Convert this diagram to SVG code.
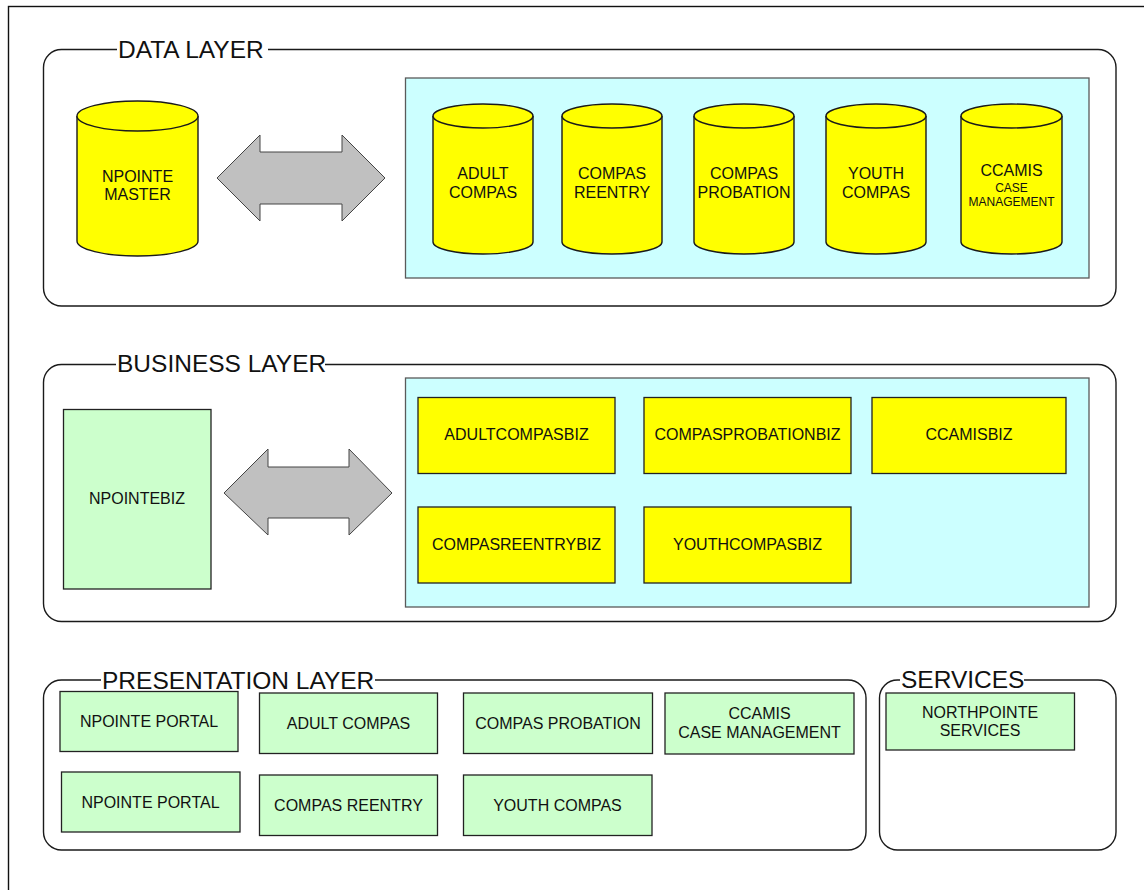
<svg xmlns="http://www.w3.org/2000/svg" width="1144" height="890" viewBox="0 0 1144 890">
<style>
.layer{fill:#ffffff;stroke:#1a1a1a;stroke-width:1.4}
.title{font-family:"Liberation Sans",Arial,sans-serif;font-size:24.5px;fill:#111}
.gap{fill:#ffffff}
.panel{fill:#ccffff;stroke:#5a5a5a;stroke-width:1.3}
.db{fill:#ffff00;stroke:#1a1a1a;stroke-width:1.4}
.biz{fill:#ffff00;stroke:#222;stroke-width:1.3}
.green{fill:#ccffcc;stroke:#222;stroke-width:1.3}
.arrow{fill:#c0c0c0;stroke:#444;stroke-width:1}
.lbl{font-family:"Liberation Sans",Arial,sans-serif;font-size:16px;fill:#111;text-anchor:middle}
.sm{font-size:12px}
</style>
<rect x="0" y="0" width="1144" height="890" fill="#ffffff"/>
<rect x="8.5" y="6.5" width="1200" height="1000" fill="none" stroke="#111" stroke-width="1.4"/>

<g id="data-layer">
<rect class="layer" x="43.5" y="49.5" width="1072.5" height="256.5" rx="18"/>
<rect class="gap" x="117" y="40" width="151" height="20"/>
<text class="title" x="118" y="58">DATA LAYER</text>
<rect class="panel" x="405.5" y="78" width="683.5" height="200"/>
</g>

<g id="npointe-master">
<path class="db" d="M77,116 L77,241 A60.5,15 0 0 0 198,241 L198,116"/>
<ellipse class="db" cx="137.5" cy="116" rx="60.5" ry="15"/>
<text class="lbl" x="137.5" y="181.5">NPOINTE</text>
<text class="lbl" x="137.5" y="200">MASTER</text>
</g>

<g id="db-adult-compas">
<path class="db" d="M433,116 L433,242 A50,12 0 0 0 533,242 L533,116"/>
<ellipse class="db" cx="483" cy="116" rx="50" ry="12"/>
<text class="lbl" x="483" y="179">ADULT</text>
<text class="lbl" x="483" y="197.5">COMPAS</text>
</g>
<g id="db-compas-reentry">
<path class="db" d="M562,116 L562,242 A50,12 0 0 0 662,242 L662,116"/>
<ellipse class="db" cx="612" cy="116" rx="50" ry="12"/>
<text class="lbl" x="612" y="179">COMPAS</text>
<text class="lbl" x="612" y="197.5">REENTRY</text>
</g>
<g id="db-compas-probation">
<path class="db" d="M694,116 L694,242 A50,12 0 0 0 794,242 L794,116"/>
<ellipse class="db" cx="744" cy="116" rx="50" ry="12"/>
<text class="lbl" x="744" y="179">COMPAS</text>
<text class="lbl" x="744" y="197.5">PROBATION</text>
</g>
<g id="db-youth-compas">
<path class="db" d="M826,116 L826,242 A50,12 0 0 0 926,242 L926,116"/>
<ellipse class="db" cx="876" cy="116" rx="50" ry="12"/>
<text class="lbl" x="876" y="179">YOUTH</text>
<text class="lbl" x="876" y="197.5">COMPAS</text>
</g>
<g id="db-ccamis">
<path class="db" d="M961,116 L961,242 A50.5,12 0 0 0 1062,242 L1062,116"/>
<ellipse class="db" cx="1011.5" cy="116" rx="50.5" ry="12"/>
<text class="lbl" x="1011.5" y="175.5">CCAMIS</text>
<text class="lbl sm" x="1011.5" y="191.5">CASE</text>
<text class="lbl sm" x="1011.5" y="205.5">MANAGEMENT</text>
</g>

<g id="business-layer">
<rect class="layer" x="43.5" y="364.5" width="1072.5" height="257" rx="18"/>
<rect class="gap" x="116" y="353" width="209" height="20"/>
<text class="title" x="117" y="371.5">BUSINESS LAYER</text>
<rect class="panel" x="405.5" y="378" width="683.5" height="229"/>
</g>

<g id="npointebiz">
<rect class="green" x="63.5" y="409.5" width="147.5" height="179.5"/>
<text class="lbl" x="137" y="504">NPOINTEBIZ</text>
</g>
<g id="adultcompasbiz">
<rect class="biz" x="418" y="397.5" width="197" height="76"/>
<text class="lbl" x="516.5" y="440">ADULTCOMPASBIZ</text>
</g>
<g id="compasprobationbiz">
<rect class="biz" x="644" y="397.5" width="207" height="76"/>
<text class="lbl" x="747.5" y="440">COMPASPROBATIONBIZ</text>
</g>
<g id="ccamisbiz">
<rect class="biz" x="872" y="397.5" width="194" height="76"/>
<text class="lbl" x="969" y="440">CCAMISBIZ</text>
</g>
<g id="compasreentrybiz">
<rect class="biz" x="418" y="507" width="197" height="76"/>
<text class="lbl" x="516.5" y="550">COMPASREENTRYBIZ</text>
</g>
<g id="youthcompasbiz">
<rect class="biz" x="644" y="507" width="207" height="76"/>
<text class="lbl" x="747.5" y="550">YOUTHCOMPASBIZ</text>
</g>

<g id="presentation-layer">
<rect class="layer" x="43.5" y="680" width="822.5" height="170" rx="18"/>
<rect class="gap" x="101" y="669" width="274" height="20"/>
<text class="title" x="102" y="688.5">PRESENTATION LAYER</text>
</g>
<g id="npointe-portal-1">
<rect class="green" x="60" y="691.5" width="178" height="60"/>
<text class="lbl" x="149" y="727">NPOINTE PORTAL</text>
</g>
<g id="adult-compas">
<rect class="green" x="259.5" y="693" width="178" height="60.5"/>
<text class="lbl" x="348.5" y="729">ADULT COMPAS</text>
</g>
<g id="compas-probation">
<rect class="green" x="463.5" y="693" width="189" height="60.5"/>
<text class="lbl" x="558" y="729">COMPAS PROBATION</text>
</g>
<g id="ccamis-case-management">
<rect class="green" x="665" y="693" width="189" height="61"/>
<text class="lbl" x="759.5" y="719">CCAMIS</text>
<text class="lbl" x="759.5" y="737.5">CASE MANAGEMENT</text>
</g>
<g id="npointe-portal-2">
<rect class="green" x="61.5" y="772" width="178.5" height="60"/>
<text class="lbl" x="150.5" y="807.5">NPOINTE PORTAL</text>
</g>
<g id="compas-reentry">
<rect class="green" x="259.5" y="775" width="178" height="60.5"/>
<text class="lbl" x="348.5" y="811">COMPAS REENTRY</text>
</g>
<g id="youth-compas">
<rect class="green" x="463.5" y="775" width="188.5" height="60.5"/>
<text class="lbl" x="557.5" y="811">YOUTH COMPAS</text>
</g>

<g id="services-layer">
<rect class="layer" x="879.5" y="680" width="236.5" height="170" rx="18"/>
<rect class="gap" x="900" y="669" width="124" height="20"/>
<text class="title" x="901" y="687.5">SERVICES</text>
</g>
<g id="northpointe-services">
<rect class="green" x="886" y="693" width="188.5" height="57"/>
<text class="lbl" x="980" y="717.5">NORTHPOINTE</text>
<text class="lbl" x="980" y="736">SERVICES</text>
</g>

<g id="connectors">
<polygon class="arrow" points="217,178 260,135 260,152 342,152 342,135 385,178 342,221 342,204 260,204 260,221"/>
<polygon class="arrow" points="224,493 268,449 268,467 349,467 349,449 392,493 349,535 349,518 268,518 268,535"/>
</g>
</svg>
